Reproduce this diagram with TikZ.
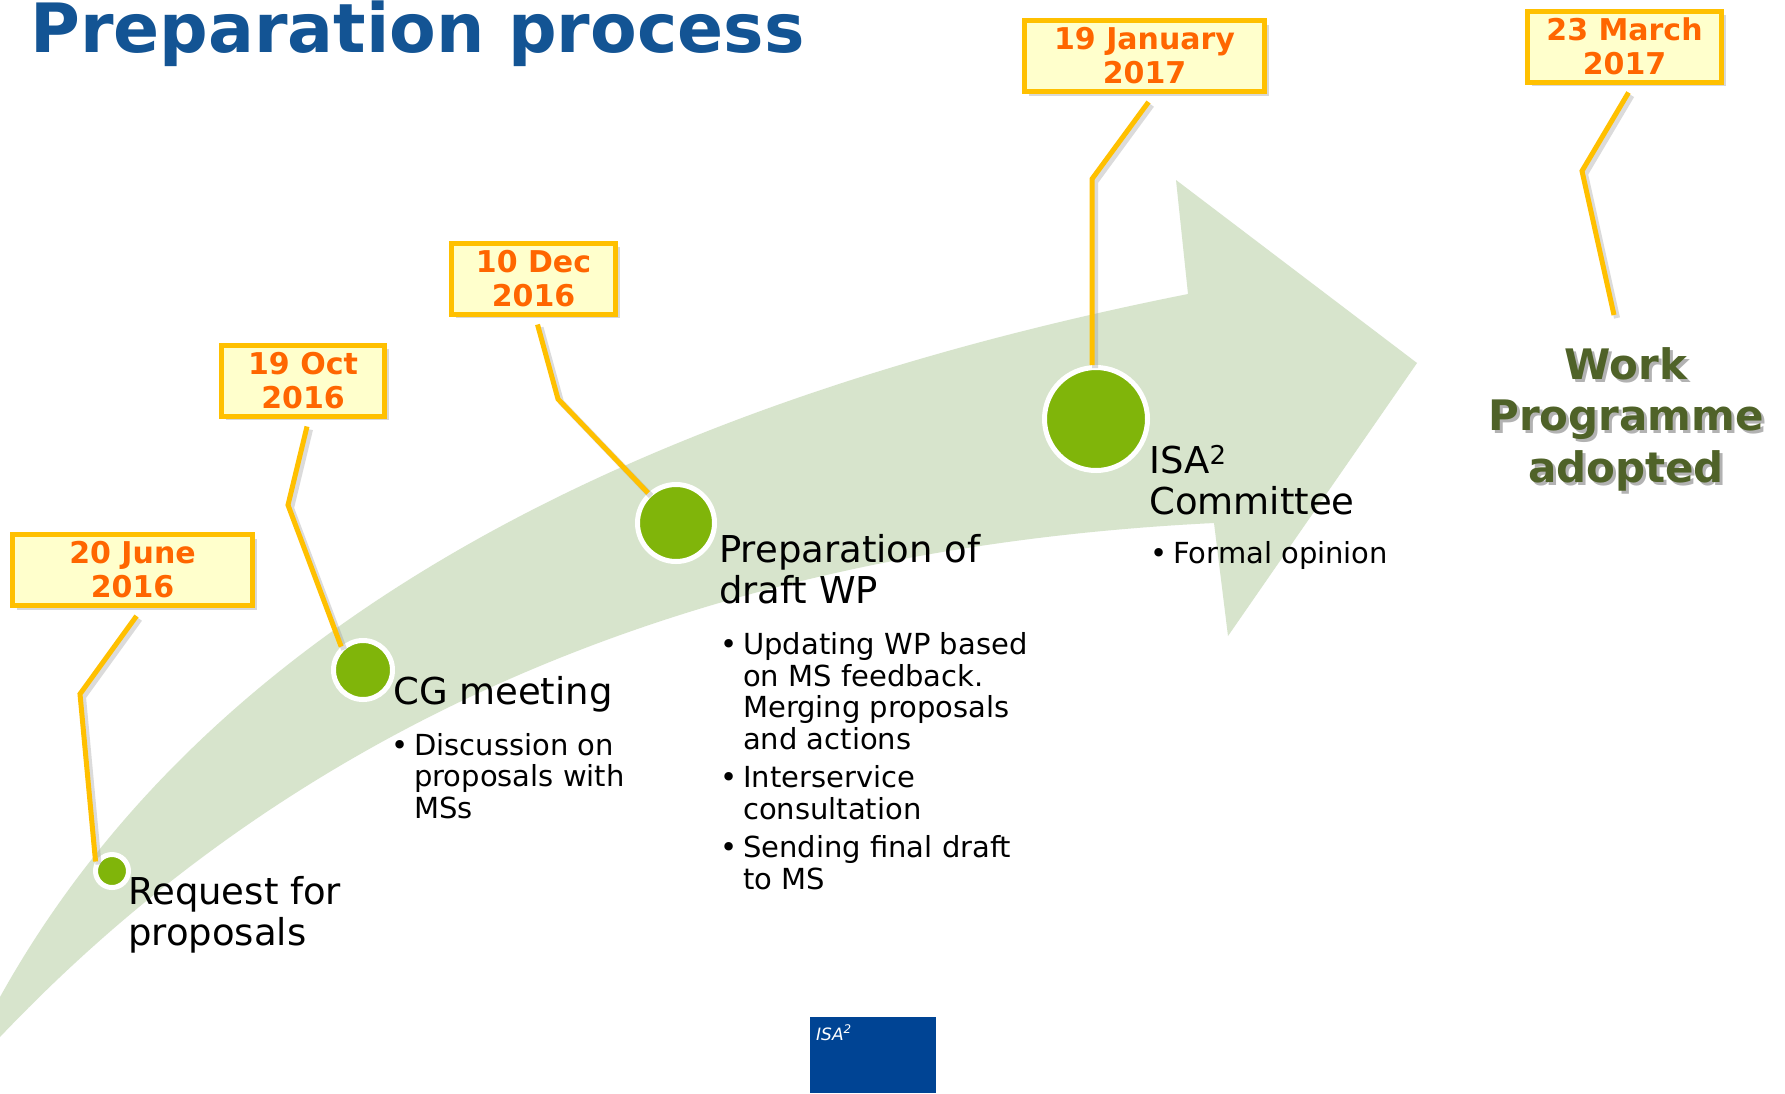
\documentclass[tikz,border=0pt]{standalone}
\usepackage{fontspec}
\setmainfont{DejaVu Sans}
\usepackage{tikz}
\usetikzlibrary{calc,shadows}
\definecolor{titleblue}{RGB}{19,84,148}
\definecolor{bandgreen}{RGB}{215,228,204}
\definecolor{dotgreen}{RGB}{128,181,10}
\definecolor{dateline}{RGB}{255,192,0}
\definecolor{datefill}{RGB}{255,255,204}
\definecolor{dateorange}{RGB}{255,102,0}
\definecolor{wpgreen}{RGB}{79,98,40}
\definecolor{isablue}{RGB}{0,68,148}
\tikzstyle{datebox} = [draw=dateline, fill=datefill, line width=5pt, text=dateorange, align=center, minimum height=71pt, font=\fontsize{30}{34}\selectfont\bfseries, drop shadow={shadow xshift=4pt, shadow yshift=-4pt, opacity=.3}]
\tikzstyle{dot} = [circle, draw=white, fill=dotgreen, line width=5pt]
\tikzstyle{stage} = [anchor=base west, align=left, font=\fontsize{37}{40.5}\selectfont]
\tikzstyle{detail} = [anchor=base west, align=left, font=\fontsize{29}{31.5}\selectfont]
\tikzstyle{link} = [draw=dateline, line width=5pt, preaction={draw=black!40, opacity=.35, line width=6pt, transform canvas={shift={(3pt,-3pt)}}}]
\tikzstyle{adopted} = [align=center, font=\fontsize{42}{51.5}\selectfont\bfseries]
\newcommand{\bul}{\makebox[23pt][l]{\textbullet}}
\newcommand{\gap}{\hspace*{23pt}}

\begin{document}
\begin{tikzpicture}[x=1pt, y=-1pt]
\tikzset{every node/.style={inner sep=0pt}}
\useasboundingbox (0,0) rectangle (1785,1093);
\fill[white] (0,0) rectangle (1785,1093);
% big curved arrow
\fill[bandgreen] (0,997) .. controls (194,648) and (590,413) .. (1188,294) -- (1176,180) -- (1417,363) -- (1228,636) -- (1214,523) .. controls (707,548) and (302,719) .. (0,1037) -- cycle;

\node[anchor=base west, text=titleblue, font=\fontsize{68}{68}\selectfont\bfseries] (title) at (30,52) {Preparation process};

% milestones
\node[dot, minimum size=33pt] (c1) at (112,871) {};
\node[dot, minimum size=59pt] (c2) at (363,670) {};
\node[dot, minimum size=77pt] (c3) at (676,523) {};
\node[dot, minimum size=103pt] (c4) at (1096,419) {};

% dates
\node[datebox, minimum width=240pt] (d1) at (132.5,570) {20 June\\2016};
\node[datebox, minimum width=163pt] (d2) at (303,380.5) {19 Oct\\2016};
\node[datebox, minimum width=164pt] (d3) at (533.5,278.5) {10 Dec\\2016};
\node[datebox, minimum width=240pt] (d4) at (1144.5,56) {19 January\\2017};
\node[datebox, minimum width=194pt] (d5) at (1624.5,46.5) {23 March\\2017};

\coordinate (b1) at (80,694);
\coordinate (b2) at (288,505);
\coordinate (b3) at (558,399);
\coordinate (b4) at (1092,179);
\coordinate (b5) at (1582,171);
\coordinate (wpend) at (1614,315);

\foreach \i/\e in {1/c1.150,2/c2.133,3/c3.133,4/c4.94,5/wpend}
{
	\draw[link] ($(d\i.south)+(4,8)$) -- (b\i) -- (\e);
}

% texts (base = last line)
\node[stage] (req) at (128,945) {Request for\\proposals};
\node[stage] (cg) at (393,704) {CG meeting};
\node[detail] (cgtxt) at (391,818) {\bul Discussion on\\\gap proposals with\\\gap MSs};
\node[stage] (prep) at (719,603) {Preparation of\\draft WP};
\node[detail] (preptxt) at (720,889) {\bul Updating WP based\\\gap on MS feedback.\\\gap Merging proposals\\\gap and actions\\[7pt]\bul Interservice\\\gap consultation\\[7pt]\bul Sending final draft\\\gap to MS};
\node[stage] (isa) at (1149,514) {ISA\textsuperscript{2}\\Committee};
\node[detail] (isatxt) at (1150,563) {\bul Formal opinion};

\node[adopted, text=black!30] (wpshadow) at (1629,422) {Work\\Programme\\adopted};
\node[adopted, text=wpgreen] (wp) at (1626,419) {Work\\Programme\\adopted};

% logo
\node[fill=isablue, minimum width=126pt, minimum height=76pt, anchor=north west] (logo) at (810,1017) {};
\node[anchor=base west, text=white, font=\fontsize{17}{17}\selectfont\itshape] (logotxt) at (816,1040) {ISA\textsuperscript{2}};
\end{tikzpicture}
\end{document}
